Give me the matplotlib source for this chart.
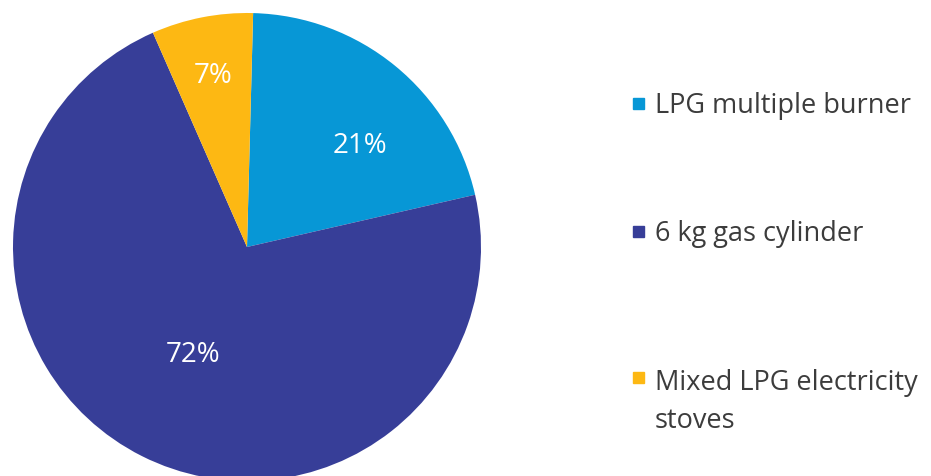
import matplotlib
matplotlib.use("Agg")
import matplotlib.pyplot as plt
from matplotlib.patches import Rectangle
import numpy as np

categories = ["LPG multiple burner", "6 kg gas cylinder", "Mixed LPG electricity\nstoves"]
values = [21, 72, 7]
colors = ["#0797D6", "#373E98", "#FDB813"]
pct_labels = ["21%", "72%", "7%"]
# label placement (angle offset deg from slice middle, radial fraction)
label_angle_offset = [-8.5, 0, 0]
label_radius = [0.65, 0.51, 0.75]

plt.rcParams['font.family'] = ['Open Sans', 'DejaVu Sans']

W, H = 931, 477
fig = plt.figure(figsize=(W/100, H/100), dpi=100)
cx, cy, R = 247, 248, 234
ax = fig.add_axes([(cx-R)/W, (H-cy-R)/H, 2*R/W, 2*R/H])

wedges, _ = ax.pie(values, colors=colors, startangle=88.5, counterclock=False,
                   radius=1, center=(0, 0), frame=True,
                   wedgeprops=dict(linewidth=0))
ax.set_xlim(-1, 1); ax.set_ylim(-1, 1)
ax.axis('off')

for w, lab, off, r in zip(wedges, pct_labels, label_angle_offset, label_radius):
    mid = np.deg2rad((w.theta1 + w.theta2) / 2 + off)
    ax.text(r*np.cos(mid), r*np.sin(mid), lab, color='white', fontsize=20,
            ha='center', va='center')

# legend
marker_y = [104, 232, 378]
text_y = [106, 234, 402]
for my, ty, c, name in zip(marker_y, text_y, colors, categories):
    fig.patches.append(Rectangle((633/W, (H-my-5.5)/H), 11/W, 11/H,
                                 transform=fig.transFigure, color=c, figure=fig))
    fig.text(655/W, (H-ty)/H, name, fontsize=19.5, color='#3c3c3c',
             ha='left', va='center', linespacing=1.5)

fig.savefig("out.png", dpi=100)
